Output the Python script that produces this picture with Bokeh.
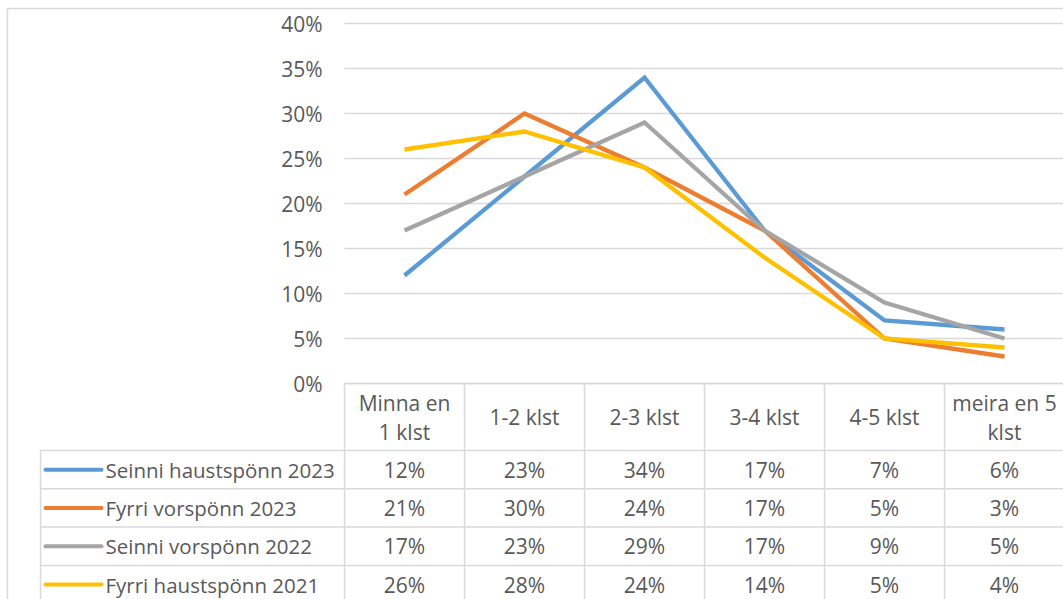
from bokeh.plotting import figure
from bokeh.models import Range1d
from bokeh.embed import file_html
from bokeh.resources import INLINE
from bokeh.core.properties import value

# ---------------- data ----------------
categories = ["Minna en\n1 klst", "1-2 klst", "2-3 klst", "3-4 klst", "4-5 klst", "meira en 5\nklst"]
series_names = ["Seinni haustspönn 2023", "Fyrri vorspönn 2023", "Seinni vorspönn 2022", "Fyrri haustspönn 2021"]
seinni_haust_2023 = [12, 23, 34, 17, 7, 6]
fyrri_vor_2023 = [21, 30, 24, 17, 5, 3]
seinni_vor_2022 = [17, 23, 29, 17, 9, 5]
fyrri_haust_2021 = [26, 28, 24, 14, 5, 4]
series_values = [seinni_haust_2023, fyrri_vor_2023, seinni_vor_2022, fyrri_haust_2021]
colors = ["#5B9BD5", "#ED7D31", "#A5A5A5", "#FFC000"]
y_ticks = [0, 5, 10, 15, 20, 25, 30, 35, 40]

# ---------------- layout (style) constants, in canvas pixels ----------------
FONT = "Open Sans"
FS = "21px"
FS_LEG = "20.5px"
FS_AX = "21px"
TXT = "#595959"
GRID = "#D9D9D9"
W, H = 1063, 599
X0_PX = 404.0       # centre of first category
COL_W = 120.0       # category width
ZERO_PX = 383.0     # 0 % line
PX_PER_PCT = 9.0
HEADER_H = 67.0
ROW_H = 38.3
LINE_H = 29.0


def xd(px):
    """canvas x pixel -> category axis units"""
    return (px - X0_PX) / COL_W


p = figure(width=W, height=H, output_backend="svg", toolbar_location=None,
           x_range=Range1d(xd(0), xd(W)),
           y_range=Range1d(-(H - ZERO_PX) / PX_PER_PCT, ZERO_PX / PX_PER_PCT),
           min_border=0, x_axis_location=None, y_axis_location=None)
# table rows measured in px downward from the 0 % line
p.extra_y_ranges = {"tbl": Range1d(H - ZERO_PX, -ZERO_PX)}
p.outline_line_color = None
p.grid.visible = False
p.background_fill_color = "white"
p.border_fill_color = "white"

x_left = xd(344)
x_right = xd(W + 20)

# chart outer border (left and top)
p.segment(x0=[xd(7), xd(7)], y0=[8 - ZERO_PX, 8 - ZERO_PX], x1=[xd(7), x_right], y1=[H, 8 - ZERO_PX],
          y_range_name="tbl", line_color=GRID, line_width=1.5)

# horizontal grid lines + y tick labels
p.segment(x0=[x_left] * len(y_ticks), y0=y_ticks, x1=[x_right] * len(y_ticks), y1=y_ticks,
          line_color=GRID, line_width=1.3)
p.text(x=[xd(322)] * len(y_ticks), y=y_ticks, text=[f"{t}%" for t in y_ticks],
       text_align="right", text_baseline="middle",
       text_font=value(FONT), text_font_size=FS_AX, text_color=TXT)

# series lines
xs = list(range(len(categories)))
for vals, col in zip(series_values, colors):
    p.line(xs, vals, line_color=col, line_width=4.3, line_join="miter", line_cap="butt")

# ---------------- data table ----------------
row_tops = [HEADER_H + ROW_H * k for k in range(len(series_names))]
t_bottom = H - ZERO_PX + 10
legend_left = xd(40)

p.segment(x0=[x_left], y0=[0], x1=[x_right], y1=[0], y_range_name="tbl", line_color=GRID, line_width=1.5)
p.segment(x0=[legend_left] * len(row_tops), y0=row_tops, x1=[x_right] * len(row_tops), y1=row_tops,
          y_range_name="tbl", line_color=GRID, line_width=1.5)
vx = [k - 0.5 for k in range(len(categories) + 1)]
p.segment(x0=vx, y0=[0] * len(vx), x1=vx, y1=[t_bottom] * len(vx),
          y_range_name="tbl", line_color=GRID, line_width=1.5)
p.segment(x0=[legend_left], y0=[HEADER_H], x1=[legend_left], y1=[t_bottom],
          y_range_name="tbl", line_color=GRID, line_width=1.5)

# header (category names, possibly two lines)
hx, hy, ht = [], [], []
for i, cat in enumerate(categories):
    lines = cat.split("\n")
    n = len(lines)
    for j, ln in enumerate(lines):
        hx.append(i)
        hy.append(HEADER_H / 2 + (j - (n - 1) / 2) * LINE_H)
        ht.append(ln)
p.text(x=hx, y=hy, text=ht, y_range_name="tbl", text_align="center", text_baseline="middle",
       text_font=value(FONT), text_font_size=FS, text_color=TXT)

# legend keys + names
mids = [t + ROW_H / 2 for t in row_tops]
n_s = len(series_names)
p.segment(x0=[xd(45)] * n_s, y0=mids, x1=[xd(101)] * n_s, y1=mids, y_range_name="tbl",
          line_color=colors, line_width=4, line_cap="round")
p.text(x=[xd(105)] * n_s, y=mids, text=series_names, y_range_name="tbl",
       text_align="left", text_baseline="middle",
       text_font=value(FONT), text_font_size=FS_LEG, text_color=TXT)

# values
cx, cy, ct = [], [], []
for m, vals in zip(mids, series_values):
    for i, v in enumerate(vals):
        cx.append(i)
        cy.append(m)
        ct.append(f"{v}%")
p.text(x=cx, y=cy, text=ct, y_range_name="tbl", text_align="center", text_baseline="middle",
       text_font=value(FONT), text_font_size=FS, text_color=TXT)

open("out.html", "w").write(file_html(p, INLINE))
